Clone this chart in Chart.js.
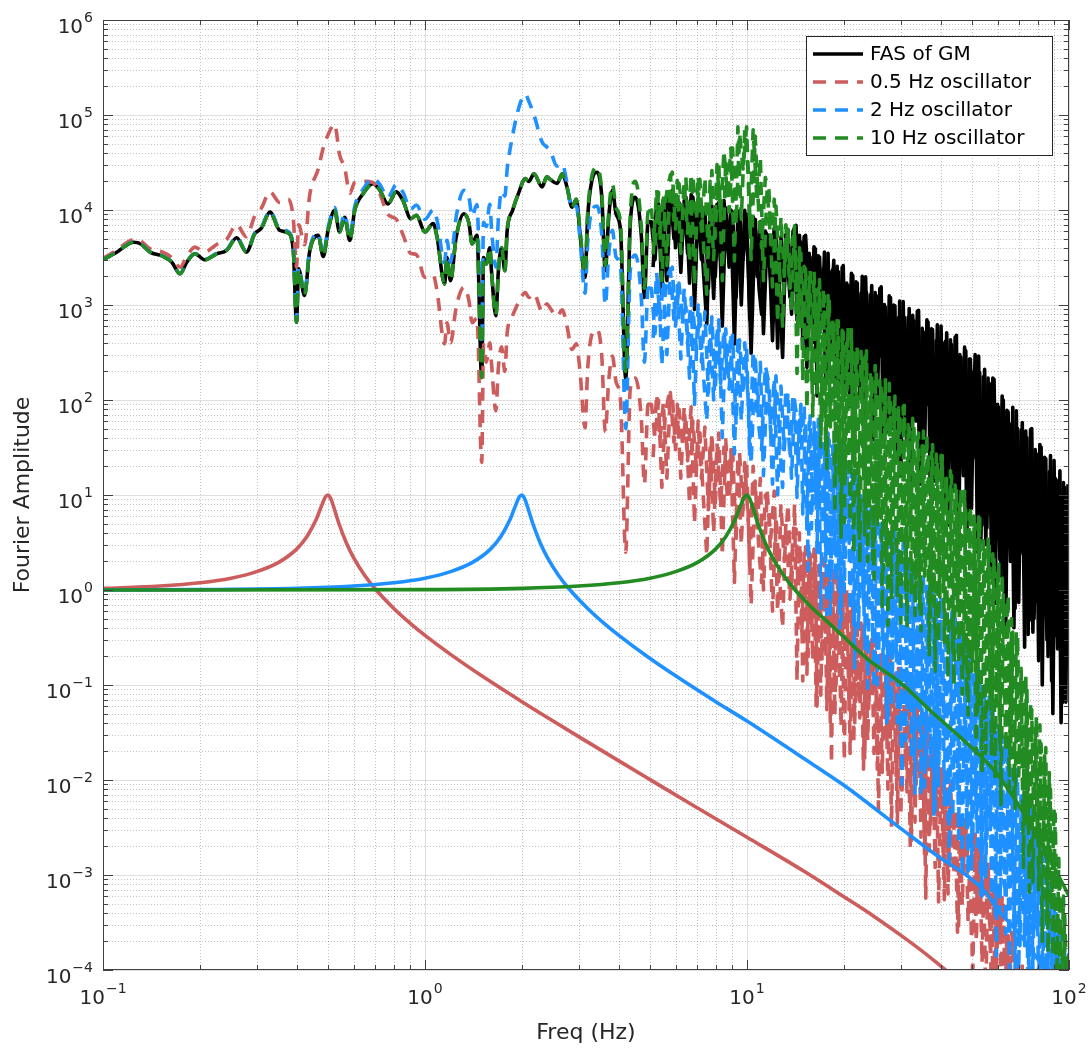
<!DOCTYPE html>
<html>
<head>
<meta charset="utf-8">
<title>Fourier Amplitude</title>
<script src="https://cdn.jsdelivr.net/npm/chart.js@4.4.1/dist/chart.umd.min.js"></script>
<style>
  html, body { margin: 0; padding: 0; background: #fff; }
  canvas { display: block; }
</style>
</head>
<body>
<canvas id="fasChart" width="1092" height="1049"></canvas>
<script>
// --- DADOS ---
// Low band (0.1 - 5 Hz): shared frequency grid for the spectrum and the oscillator responses
const lowFreq = [0.1, 0.11, 0.1245, 0.131, 0.14, 0.154, 0.1636, 0.1735, 0.182, 0.193,
  0.207, 0.2254, 0.242, 0.26, 0.279, 0.296, 0.31, 0.33, 0.354, 0.376,
  0.39, 0.399, 0.405, 0.4226, 0.438, 0.466, 0.483, 0.5, 0.524, 0.543,
  0.563, 0.584, 0.605, 0.643, 0.689, 0.723, 0.767, 0.814, 0.854, 0.903,
  0.94, 1.0, 1.06, 1.09, 1.15, 1.17, 1.2, 1.25, 1.32, 1.37,
  1.40, 1.45, 1.50, 1.52, 1.55, 1.59, 1.61, 1.66, 1.69, 1.73,
  1.77, 1.80, 1.87, 1.95, 2.05, 2.1, 2.18, 2.31, 2.39, 2.45,
  2.57, 2.67, 2.76, 2.86, 2.95, 3.03, 3.14, 3.2, 3.3, 3.42,
  3.54, 3.63, 3.72, 3.82, 3.92, 4.05, 4.2, 4.34, 4.5, 4.7,
  4.8, 4.93];

const gmLow = [3000, 3570, 4580, 4400, 3600, 3240, 2820, 2130, 2820, 3460,
  2990, 3460, 3750, 5100, 3600, 5620, 6400, 9500, 6100, 5740,
  3750, 660, 2400, 1260, 3600, 5400, 3240, 6100, 9900, 5870,
  8400, 4780, 9900, 14900, 18900, 16300, 11600, 15500, 12600, 8100,
  8800, 5870, 7200, 5200, 1670, 3150, 1800, 5200, 9100, 7200,
  4400, 5400, 173, 3150, 2700, 4000, 2200, 773, 2300, 4000,
  2300, 6100, 9900, 14900, 21400, 20000, 24000, 17500, 22300, 20900,
  19000, 24000, 17500, 10700, 13000, 5620, 1950, 8400, 20600, 25000,
  13700, 2300, 8400, 16100, 9100, 6000, 170, 7200, 13600, 5200,
  1200, 7500];

const osc05Low = [3100, 3750, 4880, 4720, 3900, 3580, 3160, 2500, 3250, 4070,
  3610, 4340, 4900, 6990, 5230, 8650, 10400, 15500, 12000, 13000,
  8000, 2500, 7000, 4300, 14000, 27000, 45000, 62000, 80000, 38000,
  28000, 15000, 19500, 20000, 19500, 15000, 9000, 8000, 5500, 3500,
  3400, 1960, 2070, 1400, 390, 650, 400, 950, 1530, 1100,
  650, 730, 22, 380, 250, 400, 235, 77, 220, 364,
  200, 510, 770, 1060, 1350, 1200, 1320, 860, 1030, 920,
  760, 890, 600, 340, 390, 200, 51, 210, 490, 550,
  290, 46, 160, 290, 155, 96, 2.5, 130, 170, 60,
  13, 90];

const osc2Low = [3000, 3580, 4600, 4420, 3620, 3260, 2840, 2150, 2840, 3490,
  3020, 3500, 3800, 5190, 3670, 5740, 6550, 9760, 6300, 5940,
  3890, 690, 2500, 1320, 3780, 5700, 3430, 6500, 10600, 6300,
  9100, 5200, 10900, 16600, 21400, 18700, 13600, 18500, 15400, 10200,
  11300, 8000, 10000, 7800, 2800, 4800, 2800, 8500, 16100, 13500,
  8600, 11400, 395, 7400, 6700, 11500, 6200, 2500, 8000, 15900,
  14000, 27000, 60000, 115000, 165000, 140000, 100000, 52000, 46000, 42000,
  29000, 30500, 19200, 10300, 11000, 5000, 1330, 4500, 10000, 11000,
  5500, 1000, 3400, 6100, 3200, 2500, 50, 2300, 3350, 1150,
  250, 1500];

// below ~3 Hz the 10 Hz oscillator response sits on top of the ground motion spectrum
const osc10Low = gmLow.slice(0, 75).concat([6200, 2150, 9300, 23000, 28000, 15400, 2600, 9600, 18600, 10600,
  7100, 200, 8700, 20000, 6500, 1500, 9600]);

// High band (5 - 100 Hz): dense, spiky part of the spectra
const hiFreq = [5.05, 5.18, 5.31, 5.44, 5.57, 5.71, 5.86, 6.00, 6.15, 6.31,
  6.46, 6.63, 6.79, 6.96, 7.14, 7.31, 7.50, 7.68, 7.88, 8.07,
  8.28, 8.48, 8.70, 8.91, 9.14, 9.37, 9.60, 9.84, 10.1, 10.3,
  10.6, 10.9, 11.1, 11.4, 11.7, 12.0, 12.3, 12.6, 12.9, 13.2,
  13.6, 13.9,
  14.2, 14.4, 14.7, 14.9, 15.2, 15.5, 15.7, 16.0, 16.3, 16.5,
  16.8, 17.1, 17.4, 17.7, 18.0, 18.3, 18.6, 18.9, 19.2, 19.6,
  19.9, 20.2, 20.6, 20.9, 21.3, 21.6, 22.0, 22.4, 22.8, 23.2,
  23.5, 23.9, 24.4, 24.8, 25.2, 25.6, 26.1, 26.5, 26.9, 27.4,
  27.9, 28.3, 28.8, 29.3, 29.8, 30.3, 30.8, 31.4, 31.9, 32.4,
  33.0, 33.5, 34.1, 34.7, 35.3, 35.9, 36.5, 37.1, 37.7, 38.4,
  39.0, 39.7, 40.4, 41.0, 41.7, 42.5, 43.2, 43.9, 44.7, 45.4,
  46.2, 47.0, 47.8, 48.6, 49.4, 50.2, 51.1, 52.0, 52.8, 53.7,
  54.7, 55.6, 56.5, 57.5, 58.5, 59.5, 60.5, 61.5, 62.5, 63.6,
  64.7, 65.8, 66.9, 68.0, 69.2, 70.4, 71.6, 72.8, 74.0, 75.3,
  76.6, 77.9, 79.2, 80.5, 81.9, 83.3, 84.7, 86.1, 87.6, 89.1,
  90.6, 92.2, 93.7, 95.3, 96.9, 98.6, 100];

const gmHi = [7500, 3000, 11600, 1300, 9000, 14000, 16100, 4000, 12000, 6000,
  13700, 1700, 13700, 5000, 11000, 2500, 630, 9000, 1170, 11500,
  3000, 12600, 4000, 10000, 390, 9500, 1000, 9900, 2500, 310,
  8000, 1500, 800, 6000, 4780, 420, 5000, 1500, 280, 5500,
  1200, 6000,
  6900, 1000, 4600, 370, 5400, 1600, 3200, 400, 3900, 110,
  3200, 600, 3600, 220, 2250, 1000, 2950, 110, 2250, 240,
  2600, 225, 1600, 85, 2050, 380, 1700, 105, 2000, 28,
  1350, 170, 1600, 62, 1250, 280, 1550, 32, 950, 68,
  1200, 75, 980, 28, 1100, 120, 740, 37, 920, 10,
  680, 60, 880, 21, 520, 88, 660, 10, 550, 22,
  620, 22, 400, 8, 510, 36, 380, 11, 480, 2.7,
  280, 16, 330, 5.6, 270, 24, 300, 2.5, 195, 4.8,
  210, 4.5, 150, 1.5, 165, 5, 84, 1.4, 100, 0.36,
  75, 2, 84, 0.64, 50, 2.4, 58, 0.25, 40, 0.48,
  50, 0.5, 27, 0.18, 32, 0.75, 24, 0.2, 26, 0.05,
  15, 0.24, 18, 0.065, 12, 0.24, 12];

const osc05Hi = [90, 40, 100, 12, 70, 110, 115, 30, 80, 35,
  65, 8, 60, 20, 45, 10, 2.3, 35, 4, 35,
  8, 32, 9, 30, 1.2, 25, 3, 22, 5, 0.7,
  14, 2.5, 1.2, 10, 6.6, 0.6, 6, 1.5, 0.4, 5,
  0.8, 4,
  4.4, 1.1, 2.5, 0.11, 2.85, 0.2, 2.4, 0.18, 2.7, 0.06,
  1.7, 0.18, 2.1, 0.055, 1.45, 0.015, 1.8, 0.1, 1.05, 0.036,
  1.2, 0.16, 0.85, 0.019, 0.79, 0.04, 0.38, 0.045, 0.42, 0.016,
  0.29, 0.066, 0.33, 0.019, 0.19, 0.0048, 0.22, 0.024, 0.18, 0.008,
  0.2, 0.034, 0.13, 0.0035, 0.145, 0.007, 0.1, 0.0075, 0.115, 0.0023,
  0.056, 0.009, 0.065, 0.0025, 0.047, 0.00057, 0.044, 0.0034, 0.024, 0.0012,
  0.022, 0.0052, 0.011, 0.00055, 0.012, 0.0011, 0.0053, 0.001, 0.0048, 0.00029,
  0.0036, 0.0012, 0.0038, 0.00032, 0.0023, 0.000075, 0.0027, 0.0004, 0.0018, 0.00012,
  0.0017, 0.00048, 0.00084, 0.00005, 0.00086, 0.0001, 0.0006, 0.0001, 0.00053, 0.00003,
  0.00023, 0.00012, 0.00022, 0.00003, 0.00011, 0.000006, 0.00011, 0.00003, 0.00005, 0.000008,
  0.00004, 0.00001, 0.00003, 0.000005, 0.00003, 0.000008, 0.00002, 0.000004, 0.00002, 0.000005,
  0.000015, 0.000003, 0.00001, 0.000003, 0.00001, 0.000002, 0.000008];

const osc2Hi = [1500, 500, 2000, 230, 1300, 2200, 2500, 600, 1700, 700,
  950, 170, 900, 350, 800, 200, 60, 600, 100, 580,
  150, 550, 180, 500, 27, 480, 60, 400, 90, 21,
  300, 50, 30, 230, 150, 13, 180, 40, 12, 130,
  25, 115,
  77, 22, 90, 6.3, 58, 1.6, 68, 8, 50, 2.4,
  64, 6, 35, 0.55, 38, 0.96, 32, 1.2, 37, 0.48,
  24, 2.2, 25, 0.6, 15, 0.15, 15, 0.76, 8.8, 0.24,
  10, 0.88, 7.2, 0.09, 7.9, 0.17, 4.5, 0.14, 5.3, 0.042,
  3.4, 0.14, 4.3, 0.04, 2.3, 0.009, 2.9, 0.052, 2.1, 0.017,
  2.1, 0.068, 1.35, 0.007, 1.5, 0.013, 1.1, 0.014, 1.3, 0.0048,
  0.67, 0.02, 0.76, 0.0055, 0.6, 0.0014, 0.58, 0.0074, 0.34, 0.0024,
  0.38, 0.01, 0.24, 0.001, 0.25, 0.0018, 0.13, 0.002, 0.13, 0.0006,
  0.085, 0.0024, 0.079, 0.0006, 0.041, 0.00014, 0.04, 0.0008, 0.024, 0.00024,
  0.023, 0.001, 0.011, 0.0001, 0.0105, 0.00018, 0.0068, 0.00018, 0.0063, 0.00006,
  0.0032, 0.00024, 0.0032, 0.00006, 0.0018, 0.000015, 0.0017, 0.00008, 0.0007, 0.000024,
  0.00057, 0.00012, 0.00026, 0.00001, 0.00016, 0.000012, 0.00006];

const osc10Hi = [10000, 4000, 15400, 1800, 12000, 20000, 25000, 6300, 19000, 9500,
  22000, 2800, 23000, 9000, 21000, 5000, 1300, 20000, 3000, 30000,
  8500, 42500, 14000, 45000, 2900, 75000, 8000, 70000, 25000, 3000,
  60000, 8000, 4000, 22000, 16000, 1550, 11000, 2500, 600, 7000,
  1500, 5200,
  3150, 540, 3500, 160, 2400, 660, 2400, 68, 1450, 120,
  1850, 60, 1250, 19, 1200, 66, 630, 17, 680, 3.6,
  520, 15, 590, 5.2, 360, 20, 380, 1.9, 280, 3.8,
  330, 3.9, 180, 1.3, 215, 5.7, 150, 1.6, 170, 0.42,
  94, 2.4, 110, 0.84, 70, 3.6, 88, 0.42, 50, 0.9,
  57, 1.05, 45, 0.37, 47, 1.7, 28, 0.52, 34, 0.14,
  22, 0.84, 26, 0.28, 15, 1.1, 16, 0.1, 12, 0.17,
  12, 0.16, 7, 0.048, 7.5, 0.17, 5, 0.05, 6, 0.012,
  2.9, 0.056, 3.2, 0.018, 2.2, 0.06, 2.0, 0.0055, 0.9, 0.02,
  0.9, 0.017, 0.36, 0.005, 0.33, 0.014, 0.12, 0.0035, 0.1, 0.00066,
  0.055, 0.0026, 0.047, 0.0007, 0.024, 0.002, 0.022, 0.00015, 0.008, 0.00014,
  0.0044, 0.0001, 0.00084, 0.000024, 0.00038, 0.00006, 0.00015];

// Interleaved samples between the 5 - 100 Hz points above (the FFT bins are much
// denser than the main grid there, so the band is drawn with a second pass)
const midFreq = [5.11, 5.24, 5.37, 5.5, 5.64, 5.78, 5.93, 6.07, 6.23, 6.38,
  6.54, 6.71, 6.87, 7.05, 7.22, 7.4, 7.59, 7.78, 7.97, 8.17,
  8.38, 8.59, 8.8, 9.02, 9.25, 9.48, 9.72, 9.97, 10.2, 10.45,
  10.75, 11.0, 11.25, 11.55, 11.85, 12.15, 12.45, 12.75, 13.05, 13.4,
  13.75, 14.05,
  14.3, 14.55, 14.8, 15.05, 15.35, 15.6, 15.85, 16.15, 16.4, 16.65,
  16.95, 17.25, 17.55, 17.85, 18.15, 18.45, 18.75, 19.05, 19.4, 19.75,
  20.05, 20.4, 20.75, 21.1, 21.45, 21.8, 22.2, 22.6, 23.0, 23.35,
  23.7, 24.15, 24.6, 25.0, 25.4, 25.85, 26.3, 26.7, 27.15, 27.65,
  28.1, 28.55, 29.05, 29.55, 30.05, 30.55, 31.1, 31.65, 32.15, 32.7,
  33.25, 33.8, 34.4, 35.0, 35.6, 36.2, 36.8, 37.4, 38.05, 38.7,
  39.35, 40.05, 40.7, 41.35, 42.1, 42.85, 43.55, 44.3, 45.05, 45.8,
  46.6, 47.4, 48.2, 49.0, 49.8, 50.65, 51.55, 52.4, 53.25, 54.2,
  55.15, 56.05, 57.0, 58.0, 59.0, 60.0, 61.0, 62.0, 63.05, 64.15,
  65.25, 66.35, 67.45, 68.6, 69.8, 71.0, 72.2, 73.4, 74.65, 75.95,
  77.25, 78.55, 79.85, 81.2, 82.6, 84.0, 85.4, 86.85, 88.35, 89.85,
  91.4, 92.95, 94.5, 96.1, 97.75, 99.3];

const gmMid = [2500, 12000, 4000, 10500, 1800, 15500, 5000, 13000, 2200, 12500,
  3500, 14500, 900, 12000, 3000, 10500, 1500, 11000, 2000, 12000,
  600, 10500, 2500, 9500, 1200, 9800, 3000, 9000, 700, 8500,
  2000, 7500, 500, 5500, 1800, 6500, 350, 5200, 1500, 6200,
  800, 6500,
  690, 5400, 1600, 5250, 220, 3500, 690, 4100, 270, 3300,
  930, 2400, 145, 3500, 300, 2350, 1150, 2550, 160, 2500,
  150, 1700, 350, 2150, 52, 1750, 160, 1330, 66, 1980,
  255, 1280, 38, 1350, 84, 1490, 315, 1010, 46, 1250,
  50, 1000, 115, 735, 16, 1090, 55, 740, 23, 780,
  90, 860, 13, 570, 28, 700, 100, 560, 14, 420,
  15, 600, 34, 415, 4.8, 430, 16, 460, 6.3, 300,
  24, 360, 3.5, 270, 7.2, 200, 25, 290, 3.2, 175,
  3, 170, 6.2, 170, 0.72, 90, 2.1, 110, 0.84, 78,
  3, 56, 0.4, 77, 0.74, 48, 2.6, 47, 0.34, 49,
  0.36, 30, 0.75, 34, 0.1, 25, 0.3, 17.5, 0.11, 23,
  0.33, 14.4, 0.04, 13.5, 0.066, 13];

const osc05Mid = [25, 115, 38, 95, 15, 120, 36, 90, 15, 85,
  23, 85, 5, 60, 15, 52, 7, 45, 8, 45,
  2.3, 38, 9, 30, 3.5, 28, 7, 23, 1.7, 20,
  4.5, 15, 1.0, 11, 3.5, 11, 0.6, 8, 2, 8,
  1.0, 8,
  0.11, 4.0, 0.35, 2.4, 0.13, 2.5, 0.42, 2.7, 0.055, 1.8,
  0.078, 2.15, 0.27, 1.6, 0.04, 1.2, 0.048, 1.7, 0.11, 1.05,
  0.016, 1.0, 0.055, 0.84, 0.024, 0.45, 0.09, 0.45, 0.013, 0.31,
  0.026, 0.22, 0.095, 0.31, 0.013, 0.19, 0.012, 0.2, 0.025, 0.21,
  0.0032, 0.13, 0.011, 0.15, 0.0042, 0.11, 0.015, 0.077, 0.0019, 0.1,
  0.0036, 0.058, 0.0125, 0.052, 0.0016, 0.049, 0.0018, 0.026, 0.004, 0.025,
  0.00052, 0.014, 0.0017, 0.0084, 0.00063, 0.0094, 0.0021, 0.0048, 0.00025, 0.004,
  0.00048, 0.004, 0.0016, 0.0025, 0.00021, 0.0029, 0.0002, 0.002, 0.0004, 0.0013,
  0.00005, 0.0014, 0.00015, 0.0008, 0.000056, 0.00063, 0.00021, 0.00058, 0.000025, 0.00026,
  0.000048, 0.00025, 0.00015, 0.00014, 0.000016, 0.000077, 0.00001, 0.00006, 0.000008, 0.00004,
  0.000006, 0.00003, 0.000005, 0.00002, 0.000004, 0.000015, 0.000004, 0.00001, 0.000003, 0.00001,
  0.000003, 0.000008, 0.000002, 0.000006, 0.000002, 0.000005];

const osc2Mid = [450, 2200, 700, 1800, 300, 2400, 700, 1600, 270, 1500,
  400, 1200, 90, 1000, 250, 850, 120, 750, 130, 700,
  40, 560, 130, 480, 55, 430, 120, 360, 25, 330,
  70, 250, 16, 180, 45, 170, 10, 140, 30, 120,
  15, 100,
  9.4, 61, 34, 88, 4.4, 58, 4.4, 58, 8.5, 63,
  0.64, 40, 2.0, 45, 0.56, 33, 2.4, 25, 0.4, 36,
  0.94, 22, 3.1, 19, 0.42, 17, 0.4, 9.8, 0.75, 11,
  0.092, 7.6, 0.27, 5.6, 0.1, 7.2, 0.3, 4.5, 0.04, 4.3,
  0.06, 4.2, 0.2, 2.6, 0.024, 3.1, 0.026, 2.3, 0.052, 1.5,
  0.0072, 2.1, 0.022, 1.3, 0.0084, 1.25, 0.03, 1.3, 0.0042, 0.8,
  0.0084, 0.85, 0.029, 0.61, 0.0038, 0.42, 0.004, 0.53, 0.0075, 0.32,
  0.001, 0.29, 0.003, 0.26, 0.0011, 0.14, 0.0039, 0.15, 0.00055, 0.094,
  0.00096, 0.056, 0.003, 0.066, 0.00036, 0.032, 0.0004, 0.03, 0.00075, 0.025,
  0.0001, 0.013, 0.0003, 0.013, 0.0001, 0.0077, 0.0004, 0.0046, 0.00005, 0.0052,
  0.0001, 0.0028, 0.0003, 0.0023, 0.00004, 0.0017, 0.00004, 0.0008, 0.000075, 0.0006,
  0.000012, 0.00034, 0.00003, 0.00011, 0.00001, 0.000077];

const osc10Mid = [3400, 16500, 5600, 15000, 2600, 23500, 7800, 20500, 3500, 20000,
  5700, 24000, 1600, 23000, 6000, 22000, 3300, 26000, 5200, 33000,
  1800, 35000, 9500, 45000, 7000, 65000, 27000, 75000, 6500, 70000,
  12000, 36000, 1800, 17000, 4500, 13000, 650, 8500, 2000, 7000,
  850, 6800,
  190, 4000, 600, 2550, 80, 1700, 156, 2250, 450, 1500,
  32, 1500, 30, 1260, 52, 710, 6.4, 760, 16, 540,
  5.1, 400, 19, 550, 2.4, 330, 4.3, 325, 15, 325,
  2.0, 200, 2.1, 230, 4.6, 160, 0.62, 115, 2.0, 150,
  0.8, 92, 3, 83, 0.45, 86, 1.0, 55, 3.7, 64,
  0.54, 47, 0.6, 33, 1.4, 44, 0.2, 28, 0.68, 27,
  0.28, 26, 0.96, 16.5, 0.12, 18, 0.22, 12.7, 0.65, 8.4,
  0.08, 11, 0.075, 6.4, 0.14, 6, 0.019, 5.9, 0.055, 3.3,
  0.019, 3.6, 0.063, 2.4, 0.01, 1.5, 0.023, 1.5, 0.075, 0.8,
  0.008, 0.5, 0.007, 0.36, 0.011, 0.15, 0.0012, 0.13, 0.003, 0.068,
  0.00084, 0.035, 0.0024, 0.038, 0.0002, 0.02, 0.0003, 0.012, 0.0005, 0.0052,
  0.000048, 0.0015, 0.00003, 0.0006, 0.00005, 0.00017];

// Oscillator transfer functions (solid curves)
const tf05Freq = [0.1, 0.15, 0.2, 0.25, 0.3, 0.35, 0.4, 0.43, 0.46, 0.48,
  0.49, 0.5, 0.51, 0.52, 0.54, 0.57, 0.6, 0.65, 0.7, 0.8,
  0.9, 1.0, 1.2, 1.5, 2, 2.5, 3, 4, 5, 7,
  10, 15, 20, 25, 30, 35, 40, 45];
const tf05 = [1.04, 1.1, 1.19, 1.33, 1.56, 1.94, 2.71, 3.65, 5.58, 8.07,
  9.46, 10, 9.12, 7.57, 5.04, 3.12, 2.19, 1.42, 1.03, 0.64,
  0.446, 0.333, 0.21, 0.125, 0.0667, 0.0417, 0.0286, 0.0159, 0.0101, 0.0051,
  0.0025, 0.0011, 0.00059, 0.00036, 0.000233, 0.000158, 0.00011, 0.000079];

const tf2Freq = [0.1, 0.2, 0.4, 0.6, 0.8, 1.0, 1.2, 1.4, 1.6, 1.72,
  1.84, 1.92, 1.96, 2.0, 2.04, 2.08, 2.16, 2.28, 2.4, 2.6,
  2.8, 3.2, 3.6, 4, 5, 6, 8, 10, 14.5, 20,
  30, 40, 48, 55, 60.6, 70, 80, 90, 100];
const tf2 = [1.0, 1.01, 1.04, 1.1, 1.19, 1.33, 1.56, 1.94, 2.71, 3.65,
  5.58, 8.07, 9.46, 10, 9.12, 7.57, 5.04, 3.12, 2.19, 1.42,
  1.03, 0.64, 0.446, 0.333, 0.19, 0.125, 0.0667, 0.0417, 0.0182, 0.0088,
  0.0031, 0.0015, 0.001, 0.00066, 0.00042, 0.00024, 0.00013, 0.00007, 0.00004];

const tf10Freq = [0.1, 1, 2, 3, 4, 5, 6, 7, 8, 8.6,
  9.2, 9.6, 9.8, 10, 10.2, 10.4, 10.8, 11.4, 12, 13,
  14, 16, 18, 20, 23.6, 30, 37.5, 45, 53, 60.6,
  71.6, 80, 90, 100];
const tf10 = [1.0, 1.01, 1.04, 1.1, 1.19, 1.33, 1.56, 1.94, 2.71, 3.65,
  5.58, 8.07, 9.46, 10, 9.12, 7.57, 5.04, 3.12, 2.19, 1.42,
  1.03, 0.64, 0.446, 0.32, 0.19, 0.105, 0.052, 0.03, 0.018, 0.011,
  0.0047, 0.0025, 0.0012, 0.0006];

// Axes: decades shown and legend text
const xDecades = [-1, 0, 1, 2];
const yDecades = [-4, -3, -2, -1, 0, 1, 2, 3, 4, 5, 6];
const minorSteps = [2, 3, 4, 5, 6, 7, 8, 9];
const legendLabels = ['FAS of GM', '0.5 Hz oscillator', '2 Hz oscillator', '10 Hz oscillator'];

// Colours
const RED = '#CD5C5C';
const BLUE = '#1E90FF';
const GREEN = '#228B22';
const BLACK = '#000000';
const AXIS = '#404040';
const DASH = [13, 9];
const LINE_W = 3.6;

// --- HELPERS ---
function toPoints(freqs, amps) {
    return freqs.map((f, i) => ({ x: f, y: amps[i] }));
}

function lineSet(label, points, color, dashed, order, smooth) {
    return {
        label,
        data: points,
        borderColor: color,
        backgroundColor: color,
        borderWidth: LINE_W,
        borderDash: dashed ? DASH : [],
        borderCapStyle: 'butt',
        borderJoinStyle: 'round',
        cubicInterpolationMode: smooth ? 'monotone' : 'default',
        tension: 0,
        pointRadius: 0,
        fill: false,
        order
    };
}

// each spectrum: smooth low band + straight-segment high band (joined at 4.93 / 5.05 Hz)
// plus the interleaved pass above 5 Hz
const lowX = lowFreq.concat([hiFreq[0]]);
const hiX = [lowFreq[lowFreq.length - 1]].concat(hiFreq);
function spectrum(label, low, hi, mid, color, dashed, order) {
    return [
        lineSet(label, toPoints(lowX, low.concat([hi[0]])), color, dashed, order, true),
        lineSet(label, toPoints(hiX, [low[low.length - 1]].concat(hi)), color, dashed, order, false),
        lineSet(label, toPoints(midFreq, mid), color, dashed, order, false)
    ];
}

// draw order: black first, dashed next, solid curves on top
const datasets = [
    ...spectrum(legendLabels[0], gmLow, gmHi, gmMid, BLACK, false, 7),
    ...spectrum(legendLabels[1], osc05Low, osc05Hi, osc05Mid, RED, true, 6),
    ...spectrum(legendLabels[2], osc2Low, osc2Hi, osc2Mid, BLUE, true, 5),
    ...spectrum(legendLabels[3], osc10Low, osc10Hi, osc10Mid, GREEN, true, 4),
    lineSet('tf 0.5', toPoints(tf05Freq, tf05), RED, false, 3, true),
    lineSet('tf 2', toPoints(tf2Freq, tf2), BLUE, false, 2, true),
    lineSet('tf 10', toPoints(tf10Freq, tf10), GREEN, false, 1, true)
];

function powerLabel(ctx, exp, x, y, align) {
    const base = '10';
    const sup = exp < 0 ? '\u2212' + (-exp) : String(exp);
    ctx.font = '20px "DejaVu Sans"';
    const wb = ctx.measureText(base).width;
    ctx.font = '14px "DejaVu Sans"';
    const ws = ctx.measureText(sup).width;
    let start = align === 'right' ? x - wb - ws - 1 : x - (wb + ws + 1) / 2;
    ctx.textAlign = 'left';
    ctx.textBaseline = 'alphabetic';
    ctx.font = '20px "DejaVu Sans"';
    ctx.fillText(base, start, y);
    ctx.font = '14px "DejaVu Sans"';
    ctx.fillText(sup, start + wb + 1, y - 11);
}

// --- GRID / FRAME PLUGIN ---
const axesFrame = {
    id: 'axesFrame',
    beforeDatasetsDraw(chart) {
        const { ctx, chartArea: a, scales: { x, y } } = chart;
        ctx.save();
        ctx.lineWidth = 1;

        // minor grid (dotted)
        ctx.strokeStyle = 'rgba(38,38,38,0.28)';
        ctx.setLineDash([1, 2]);
        ctx.beginPath();
        xDecades.slice(0, -1).forEach(d => minorSteps.forEach(m => {
            const px = Math.round(x.getPixelForValue(m * Math.pow(10, d))) + 0.5;
            ctx.moveTo(px, a.top); ctx.lineTo(px, a.bottom);
        }));
        yDecades.slice(0, -1).forEach(d => minorSteps.forEach(m => {
            const py = Math.round(y.getPixelForValue(m * Math.pow(10, d))) + 0.5;
            ctx.moveTo(a.left, py); ctx.lineTo(a.right, py);
        }));
        ctx.stroke();

        // major grid (solid)
        ctx.setLineDash([]);
        ctx.strokeStyle = 'rgba(38,38,38,0.15)';
        ctx.beginPath();
        xDecades.forEach(d => {
            const px = Math.round(x.getPixelForValue(Math.pow(10, d))) + 0.5;
            ctx.moveTo(px, a.top); ctx.lineTo(px, a.bottom);
        });
        yDecades.forEach(d => {
            const py = Math.round(y.getPixelForValue(Math.pow(10, d))) + 0.5;
            ctx.moveTo(a.left, py); ctx.lineTo(a.right, py);
        });
        ctx.stroke();
        ctx.restore();
    },
    afterDatasetsDraw(chart) {
        const { ctx, chartArea: a, scales: { x, y } } = chart;
        ctx.save();
        ctx.strokeStyle = AXIS;
        ctx.lineWidth = 1;
        ctx.setLineDash([]);

        // ticks on all four sides, pointing inwards
        const tick = (px, len, vertical) => {
            if (vertical) {
                ctx.moveTo(px, a.bottom); ctx.lineTo(px, a.bottom - len);
                ctx.moveTo(px, a.top); ctx.lineTo(px, a.top + len);
            } else {
                ctx.moveTo(a.left, px); ctx.lineTo(a.left + len, px);
                ctx.moveTo(a.right, px); ctx.lineTo(a.right - len, px);
            }
        };
        ctx.beginPath();
        xDecades.forEach(d => tick(Math.round(x.getPixelForValue(Math.pow(10, d))) + 0.5, 10, true));
        xDecades.slice(0, -1).forEach(d => minorSteps.forEach(m =>
            tick(Math.round(x.getPixelForValue(m * Math.pow(10, d))) + 0.5, 5, true)));
        yDecades.forEach(d => tick(Math.round(y.getPixelForValue(Math.pow(10, d))) + 0.5, 10, false));
        yDecades.slice(0, -1).forEach(d => minorSteps.forEach(m =>
            tick(Math.round(y.getPixelForValue(m * Math.pow(10, d))) + 0.5, 5, false)));
        ctx.stroke();

        // box
        ctx.strokeRect(Math.round(a.left) + 0.5, Math.round(a.top) + 0.5,
            Math.round(a.right - a.left) - 1, Math.round(a.bottom - a.top) - 1);

        // tick labels
        ctx.fillStyle = '#262626';
        xDecades.forEach(d => powerLabel(ctx, d, x.getPixelForValue(Math.pow(10, d)), 1004, 'center'));
        yDecades.forEach(d => powerLabel(ctx, d, 93, y.getPixelForValue(Math.pow(10, d)) + 13, 'right'));

        // axis titles
        ctx.font = '22px "DejaVu Sans"';
        ctx.textAlign = 'center';
        ctx.textBaseline = 'alphabetic';
        ctx.fillText('Freq (Hz)', (a.left + a.right) / 2, 1039);
        ctx.save();
        ctx.translate(29, (a.top + a.bottom) / 2);
        ctx.rotate(-Math.PI / 2);
        ctx.fillText('Fourier Amplitude', 0, 0);
        ctx.restore();

        // legend
        const lx = 806, ly = 36, lw = 246, lh = 119;
        ctx.fillStyle = '#ffffff';
        ctx.fillRect(lx, ly, lw, lh);
        ctx.strokeStyle = '#262626';
        ctx.strokeRect(lx + 0.5, ly + 0.5, lw, lh);
        const rows = [54, 82, 110, 138];
        const styles = [[BLACK, false], [RED, true], [BLUE, true], [GREEN, true]];
        rows.forEach((ry, i) => {
            ctx.strokeStyle = styles[i][0];
            ctx.lineWidth = LINE_W;
            ctx.setLineDash(styles[i][1] ? DASH : []);
            ctx.beginPath();
            ctx.moveTo(813, ry);
            ctx.lineTo(863, ry);
            ctx.stroke();
            ctx.setLineDash([]);
            ctx.fillStyle = '#000000';
            ctx.font = '20px "DejaVu Sans"';
            ctx.textAlign = 'left';
            ctx.textBaseline = 'middle';
            ctx.fillText(legendLabels[i], 870, ry + 1);
        });
        ctx.restore();
    }
};

new Chart(document.getElementById('fasChart'), {
    type: 'line',
    data: { datasets },
    options: {
        responsive: false,
        animation: false,
        devicePixelRatio: 1,
        events: [],
        layout: { padding: { left: 103, right: 23, top: 20, bottom: 79 } },
        scales: {
            x: { type: 'logarithmic', min: 0.1, max: 100, display: false },
            y: { type: 'logarithmic', min: 1e-4, max: 1e6, display: false }
        },
        plugins: {
            legend: { display: false },
            tooltip: { enabled: false }
        }
    },
    plugins: [axesFrame]
});
</script>
</body>
</html>
